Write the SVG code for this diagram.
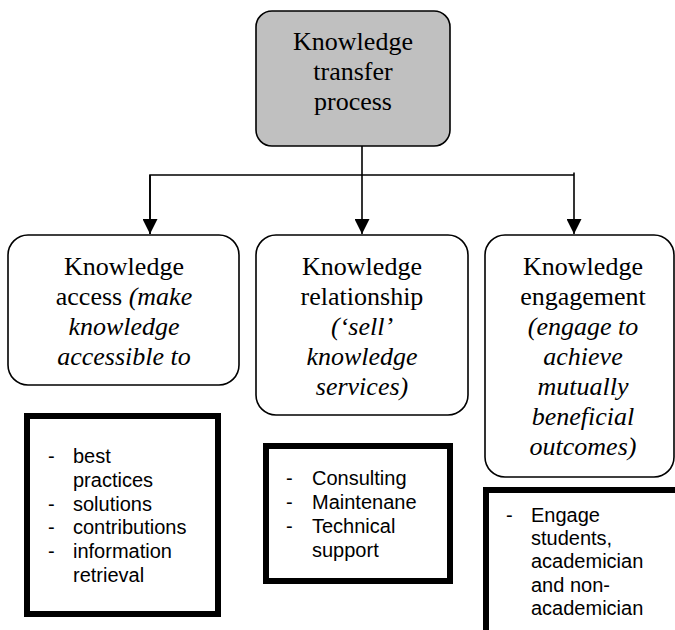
<svg xmlns="http://www.w3.org/2000/svg" width="675" height="630" viewBox="0 0 675 630">
<defs>
<style>
.rbox{fill:#fff;stroke:#000;stroke-width:1.6}
.top{fill:#c0c0c0;stroke:#000;stroke-width:1.6}
.ser{font-family:"Liberation Serif","Times New Roman",serif;font-size:26px;fill:#000;text-anchor:middle}
.it{font-style:italic}
.bbox{fill:#fff;stroke:#000;stroke-width:6}
.san{font-family:"Liberation Sans",Arial,sans-serif;font-size:20px;fill:#000}
.conn{fill:none;stroke:#000;stroke-width:1.6}
</style>
<marker id="arr" markerWidth="15" markerHeight="15" viewBox="0 0 15 15" refX="15" refY="7.5" orient="auto" markerUnits="userSpaceOnUse">
<path d="M0,0 L15,7.5 L0,15 Z" fill="#000"/>
</marker>
</defs>
<g id="connectors">
<line class="conn" x1="362" y1="146" x2="362" y2="234" marker-end="url(#arr)"/>
<polyline class="conn" points="150,234 150,175 574,175"/>
<line class="conn" x1="150" y1="175" x2="150" y2="234" marker-end="url(#arr)"/>
<line class="conn" x1="574" y1="172.5" x2="574" y2="234" marker-end="url(#arr)"/>
</g>
<g id="n-top">
<rect class="top" x="256" y="11" width="194" height="135" rx="16"/>
<text class="ser" x="353" y="50">Knowledge</text>
<text class="ser" x="353" y="80">transfer</text>
<text class="ser" x="353" y="110">process</text>
</g>
<g id="n-access">
<rect class="rbox" x="8" y="235" width="231" height="150" rx="20"/>
<text class="ser" x="124" y="275">Knowledge</text>
<text class="ser" x="124" y="305">access <tspan class="it">(make</tspan></text>
<text class="ser it" x="124" y="335">knowledge</text>
<text class="ser it" x="124" y="365">accessible to</text>
</g>
<g id="n-relationship">
<rect class="rbox" x="256" y="235" width="212" height="180" rx="20"/>
<text class="ser" x="362" y="275">Knowledge</text>
<text class="ser" x="362" y="305">relationship</text>
<text class="ser it" x="362" y="335">(‘sell’</text>
<text class="ser it" x="362" y="365">knowledge</text>
<text class="ser it" x="362" y="395">services)</text>
</g>
<g id="n-engagement">
<rect class="rbox" x="485" y="235" width="189" height="242" rx="20"/>
<text class="ser" x="583" y="275">Knowledge</text>
<text class="ser" x="583" y="305">engagement</text>
<text class="ser it" x="583" y="335">(engage to</text>
<text class="ser it" x="583" y="365">achieve</text>
<text class="ser it" x="583" y="395">mutually</text>
<text class="ser it" x="583" y="425">beneficial</text>
<text class="ser it" x="583" y="455">outcomes)</text>
</g>
<g id="n-access-list">
<rect class="bbox" x="27" y="416" width="191" height="198"/>
<text class="san" x="48" y="463">-</text><text class="san" x="73" y="463">best</text>
<text class="san" x="73" y="487">practices</text>
<text class="san" x="48" y="511">-</text><text class="san" x="73" y="511">solutions</text>
<text class="san" x="48" y="534">-</text><text class="san" x="73" y="534">contributions</text>
<text class="san" x="48" y="558">-</text><text class="san" x="73" y="558">information</text>
<text class="san" x="73" y="582">retrieval</text>
</g>
<g id="n-relationship-list">
<rect class="bbox" x="266" y="446" width="184" height="135"/>
<text class="san" x="286" y="485">-</text><text class="san" x="312" y="485">Consulting</text>
<text class="san" x="286" y="509">-</text><text class="san" x="312" y="509">Maintenane</text>
<text class="san" x="286" y="533">-</text><text class="san" x="312" y="533">Technical</text>
<text class="san" x="312" y="557">support</text>
</g>
<g id="n-engagement-list">
<rect class="bbox" x="486" y="490" width="200" height="150"/>
<text class="san" x="506" y="522">-</text><text class="san" x="531" y="522">Engage</text>
<text class="san" x="531" y="545">students,</text>
<text class="san" x="531" y="568">academician</text>
<text class="san" x="531" y="592">and non-</text>
<text class="san" x="531" y="615">academician</text>
</g>
</svg>
